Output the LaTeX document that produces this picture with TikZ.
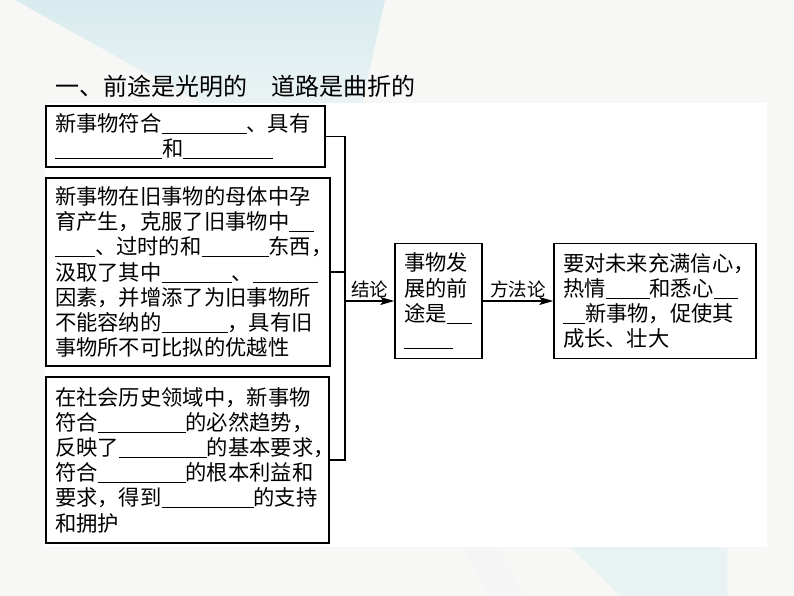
\documentclass[tikz,border=0pt]{standalone}
\usepackage{fontspec}
\setmainfont{Noto Sans CJK SC}
\usepackage{xcolor}
\usetikzlibrary{arrows.meta}
\definecolor{slidebg}{HTML}{F7F7F5}
\definecolor{slideteal}{HTML}{D8EBEE}
\definecolor{slidepale}{HTML}{EAF3F4}
\newcommand\blank[1]{\rule[-2.5pt]{#1pt}{1.1pt}}

\begin{document}
\begin{tikzpicture}[x=1pt, y=-1pt,
  box/.style={draw, line width=1.5pt, inner xsep=9pt, inner ysep=2pt, align=left,
    font=\fontsize{21.3}{25.2}\selectfont},
  link/.style={line width=1.3pt},
  go/.style={link, -{Stealth[length=14pt, width=8pt, inset=3pt]}},
  tag/.style={above, inner sep=2pt, font=\fontsize{18.5}{20}\selectfont}]
 \useasboundingbox (0,0) rectangle (794,596);
 \fill [slidebg] (0,0) rectangle (794,596);
 \shade [top color=slideteal, bottom color=slidepale] (15,0) -- (385,0) -- (362,103) -- (200,103) -- cycle;
 \fill [black!4] (463,547) -- (497,547) -- (522,596) -- (490,596) -- cycle;
 \fill [slidepale] (570,547) -- (727,547) -- (727,596) -- (620,596) -- cycle;
 \fill [white] (45,103) rectangle (767,547);

 \node (title) at (52,86) [anchor=west, font=\fontsize{24}{28}\selectfont] {一、前途是光明的　道路是曲折的};

 \node (b1) at (185.5,136.5) [box, text width=261pt, minimum width=279pt, minimum height=61pt]
   {新事物符合\blank{85}、具有\\\blank{107}和\blank{90}};
 \node (b2) at (188,272) [box, text width=266pt, minimum width=284pt, minimum height=188pt]
   {新事物在旧事物的母体中孕\\育产生，克服了旧事物中\blank{25}\\\blank{40}、过时的和\blank{67}东西，\\
    汲取了其中\blank{70}、\blank{65}\\因素，并增添了为旧事物所\\不能容纳的\blank{66}，具有旧\\
    事物所不可比拟的优越性};
 \node (b3) at (187.5,460) [box, text width=265pt, minimum width=283pt, minimum height=166pt]
   {在社会历史领域中，新事物\\符合\blank{88}的必然趋势，\\反映了\blank{88}的基本要求，\\
    符合\blank{88}的根本利益和\\要求，得到\blank{92}的支持\\和拥护};
 \node (b4) at (438.5,301) [box, text width=69pt, minimum width=87pt, minimum height=115pt]
   {事物发\\展的前\\途是\blank{25}\\\blank{49}};
 \node (b5) at (655,301) [box, text width=184pt, minimum width=202pt, minimum height=115pt]
   {要对未来充满信心，\\热情\blank{44}和悉心\blank{24}\\\blank{22}新事物，促使其\\成长、壮大};

 % brace of the three boxes
 \coordinate (hub) at (345,301);
 \draw [link] (b1.east) -| (hub);
 \draw [link] (b3.east) -| (hub);
 \draw [link] (b2.east) -- (b2.east -| hub);
 \draw [go] (hub) -- node [tag] {结论} (b4.west);
 \draw [go] (b4.east) -- node [tag] {方法论} (b5.west);
\end{tikzpicture}
\end{document}
